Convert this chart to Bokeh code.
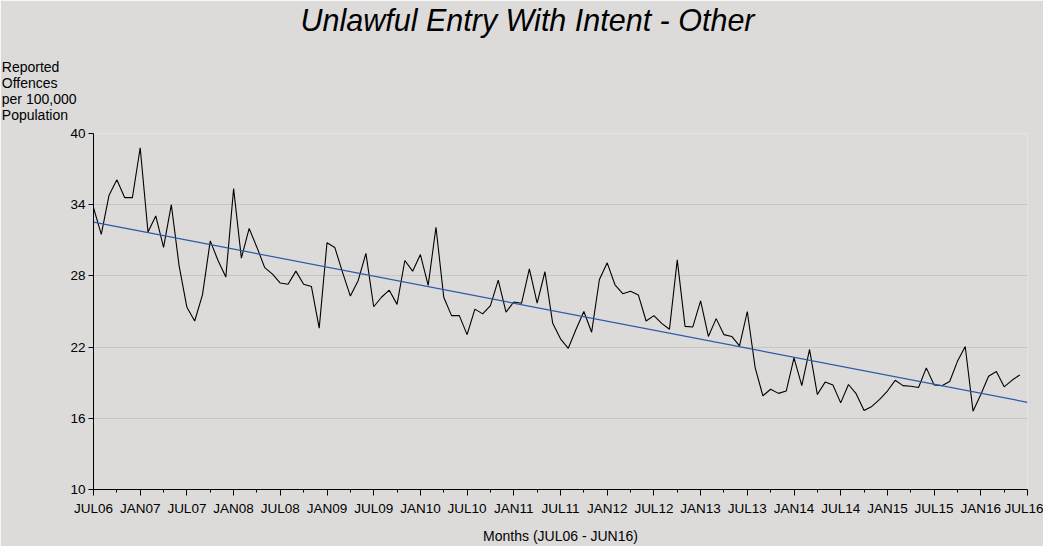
import numpy as np
from bokeh.plotting import figure
from bokeh.models import Range1d, FixedTicker, Title
from bokeh.embed import file_html
from bokeh.resources import INLINE

# ---- data ----
tick_labels = ["JUL06", "JAN07", "JUL07", "JAN08", "JUL08", "JAN09", "JUL09",
               "JAN10", "JUL10", "JAN11", "JUL11", "JAN12", "JUL12", "JAN13",
               "JUL13", "JAN14", "JUL14", "JAN15", "JUL15", "JAN16", "JUL16"]
y_ticks = [10, 16, 22, 28, 34, 40]

offences = [
    33.75, 31.5, 34.8, 36.1, 34.6, 34.6, 38.8, 31.7, 33.05, 30.4, 34.0, 28.85,
    25.35, 24.2, 26.4, 30.95, 29.3, 27.9,
    35.35, 29.5, 32.0, 30.4, 28.7, 28.15, 27.4, 27.3, 28.4, 27.3, 27.1, 23.6,
    30.8, 30.4, 28.3, 26.3, 27.6, 29.9,
    25.4, 26.2, 26.8, 25.6, 29.3, 28.4, 29.8, 27.2, 32.1, 26.2, 24.65, 24.65,
    23.05, 25.2, 24.8, 25.5, 27.65, 24.95,
    25.8, 25.7, 28.6, 25.7, 28.35, 24.0, 22.7, 21.9, 23.5, 25.0, 23.25, 27.7,
    29.1, 27.25, 26.5, 26.7, 26.4, 24.2,
    24.65, 24.0, 23.5, 29.35, 23.75, 23.7, 25.9, 22.9, 24.4, 23.05, 22.9, 22.1,
    25.0, 20.3, 17.9, 18.45, 18.1, 18.3,
    21.1, 18.75, 21.8, 18.0, 19.05, 18.8, 17.3, 18.85, 18.05, 16.65, 17.0, 17.6,
    18.3, 19.2, 18.75, 18.7, 18.6, 20.25,
    18.8, 18.75, 19.1, 20.8, 22.05, 16.6, 18.0, 19.55, 19.95, 18.65, 19.2, 19.65,
]
month_index = list(range(len(offences)))
n_months = len(offences)
tick_positions = list(range(0, n_months + 1, 6))
minor_positions = list(range(3, n_months, 6))

title_text = "Unlawful Entry With Intent - Other"
y_label_lines = ["Reported", "Offences", "per 100,000", "Population"]
x_label_text = "Months (JUL06 - JUN16)"

# linear trend through the series
slope, intercept = np.polyfit(month_index, offences, 1)
trend_x = [0, n_months]
trend_y = [intercept + slope * t for t in trend_x]

BG = "#DCDBDA"
FONT = "Liberation Sans"
W, H = 1043, 546
LEFT, RIGHT, TOP, BOTTOM = 93, 16, 133, 56

p = figure(width=W, height=H, output_backend="svg", toolbar_location=None,
           x_range=Range1d(0, n_months), y_range=Range1d(y_ticks[0], y_ticks[-1]),
           min_border_left=LEFT, min_border_right=RIGHT, min_border_top=TOP,
           min_border_bottom=BOTTOM,
           background_fill_color=BG, border_fill_color=BG, outline_line_color=None)

p.line(month_index, offences, line_color="black", line_width=1.1)
p.line(trend_x, trend_y, line_color="#2A5AA8", line_width=1.2)

xa = p.xaxis[0]
xa.ticker = FixedTicker(ticks=tick_positions, minor_ticks=minor_positions)
xa.major_label_overrides = {t: l for t, l in zip(tick_positions, tick_labels)}
xa.major_tick_out = 6
xa.major_tick_in = 0
xa.minor_tick_out = 3
xa.minor_tick_in = 0
xa.major_label_standoff = 5
xa.major_label_text_font = FONT
xa.major_label_text_font_size = "13.5px"
xa.major_label_text_color = "black"
xa.axis_line_color = "black"
xa.major_tick_line_color = "black"
xa.minor_tick_line_color = "black"
xa.axis_label = x_label_text
xa.axis_label_text_font = FONT
xa.axis_label_text_font_size = "14px"
xa.axis_label_text_font_style = "normal"
xa.axis_label_text_color = "black"
xa.axis_label_standoff = 9

ya = p.yaxis[0]
ya.ticker = FixedTicker(ticks=y_ticks)
ya.major_tick_out = 5
ya.major_tick_in = 0
ya.minor_tick_line_color = None
ya.major_label_standoff = 3
ya.major_label_text_font = FONT
ya.major_label_text_font_size = "13.5px"
ya.major_label_text_color = "black"
ya.axis_line_color = "black"
ya.major_tick_line_color = "black"

p.xgrid.visible = False
p.ygrid.ticker = FixedTicker(ticks=y_ticks)
p.ygrid.grid_line_color = "#C6C6C6"
p.ygrid.grid_line_width = 1


def spacer(gap):
    """invisible top-border spacer of roughly `gap` pixels"""
    return Title(text=" ", text_font_size="1px", standoff=max(gap - 3.1, 0),
                 text_color=BG)


# captions in the top border, stacked outward from the frame
p.add_layout(spacer(9.7), "above")
p.add_layout(Title(text="\n".join(y_label_lines), align="left", offset=-91.7,
                   vertical_align="bottom", standoff=0,
                   text_font=FONT, text_font_size="14px",
                   text_font_style="normal", text_color="black",
                   text_line_height=1.02), "above")
p.add_layout(spacer(20.3), "above")
p.add_layout(Title(text=title_text, align="left", offset=207,
                   vertical_align="bottom", standoff=0,
                   text_font=FONT, text_font_size="30.5px",
                   text_font_style="italic", text_color="black"), "above")

open("out.html", "w").write(file_html(p, INLINE))
